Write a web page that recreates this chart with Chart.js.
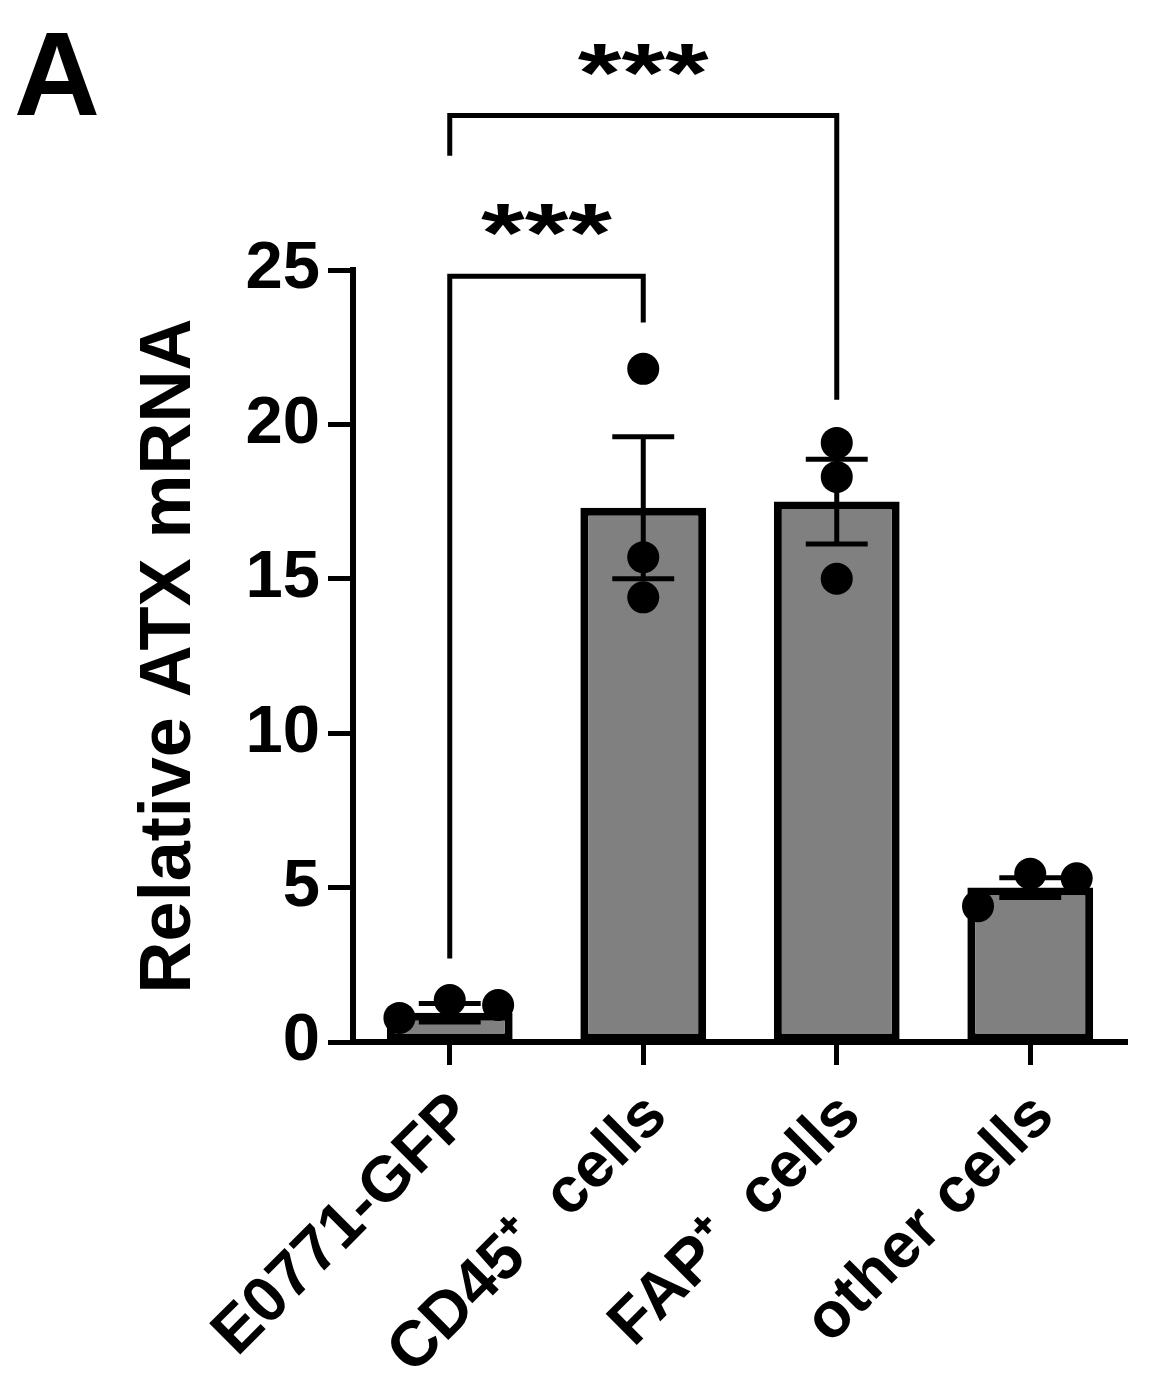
<!DOCTYPE html>
<html>
<head>
<meta charset="utf-8">
<script src="https://cdn.jsdelivr.net/npm/chart.js@4.4.0/dist/chart.umd.min.js"></script>
<style>
  html, body { margin: 0; padding: 0; background: #fff; }
  #wrap { width: 1149px; height: 1395px; }
</style>
</head>
<body>
<div id="wrap"><canvas id="atxChart" width="1149" height="1395"></canvas></div>
<script>
// values
const categories = ['E0771-GFP', 'CD45\u207A  cells', 'FAP\u207A  cells', 'other cells'];
const barMeans = [0.95, 17.3, 17.5, 5.0];
const barSem = [0.3, 2.3, 1.37, 0.32];
const replicates = [
  [0.78, 1.36, 1.2],
  [21.8, 15.7, 14.4],
  [19.4, 18.3, 15.0],
  [4.4, 5.45, 5.3],
];
// horizontal spread of the dots, in category units
const jitter = [
  [-0.26, 0, 0.25],
  [0, 0, 0],
  [0, 0, 0],
  [-0.27, 0, 0.24],
];
const yTicks = [0, 5, 10, 15, 20, 25];

// significance brackets (y in data units)
const bracketFrom = [0, 0];
const bracketTo = [1, 2];
const bracketTop = [24.8, 30.0];
const bracketLeftEnd = [2.7, 28.7];
const bracketRightEnd = [23.3, 20.8];
const bracketLabels = ['***', '***'];

const panelLabel = 'A';
const FONT = "'Liberation Sans', Arial, Helvetica, sans-serif";

const points = [];
replicates.forEach((vals, i) => {
  vals.forEach((v, j) => points.push({ x: i + jitter[i][j], y: v }));
});

const annotations = {
  id: 'annotations',
  afterDatasetDraw(chart, args) {
    if (args.index !== 0) return;
    const ctx = chart.ctx;
    const xp = chart.scales.xp;
    const y = chart.scales.y;
    ctx.save();
    ctx.strokeStyle = '#000';
    ctx.lineWidth = 5;
    barMeans.forEach((m, i) => {
      const cx = xp.getPixelForValue(i);
      const half = xp.getPixelForValue(i + 0.16) - cx;
      const yt = y.getPixelForValue(m + barSem[i]);
      const yb = y.getPixelForValue(m - barSem[i]);
      ctx.beginPath();
      ctx.moveTo(cx, yt);
      ctx.lineTo(cx, yb);
      ctx.moveTo(cx - half, yt);
      ctx.lineTo(cx + half, yt);
      ctx.moveTo(cx - half, yb);
      ctx.lineTo(cx + half, yb);
      ctx.stroke();
    });
    ctx.restore();
  },
  afterDraw(chart) {
    const ctx = chart.ctx;
    const xp = chart.scales.xp;
    const y = chart.scales.y;
    ctx.save();
    ctx.strokeStyle = '#000';
    ctx.fillStyle = '#000';
    ctx.lineWidth = 5;
    ctx.lineJoin = 'miter';
    bracketFrom.forEach((from, k) => {
      const x1 = xp.getPixelForValue(from);
      const x2 = xp.getPixelForValue(bracketTo[k]);
      const top = y.getPixelForValue(bracketTop[k]);
      ctx.beginPath();
      ctx.moveTo(x1, y.getPixelForValue(bracketLeftEnd[k]));
      ctx.lineTo(x1, top);
      ctx.lineTo(x2, top);
      ctx.lineTo(x2, y.getPixelForValue(bracketRightEnd[k]));
      ctx.stroke();
      // squat asterisks like the original figure
      ctx.save();
      ctx.translate((x1 + x2) / 2, top - 14);
      ctx.scale(1, 0.75);
      ctx.font = 'bold 112px ' + FONT;
      ctx.textAlign = 'center';
      ctx.textBaseline = 'alphabetic';
      ctx.fillText(bracketLabels[k], 0, 0);
      ctx.restore();
    });
    ctx.font = 'bold 119px ' + FONT;
    ctx.textAlign = 'left';
    ctx.textBaseline = 'alphabetic';
    ctx.fillText(panelLabel, 14, 115);
    ctx.restore();
  }
};

const ctx = document.getElementById('atxChart').getContext('2d');
new Chart(ctx, {
  type: 'bar',
  data: {
    labels: categories,
    datasets: [
      {
        type: 'bar',
        data: barMeans,
        backgroundColor: '#808080',
        borderColor: '#000',
        borderWidth: 8,
        borderSkipped: false,
        grouped: false,
        barPercentage: 0.65,
        categoryPercentage: 1,
        xAxisID: 'x',
        yAxisID: 'y',
        order: 2,
      },
      {
        type: 'scatter',
        data: points,
        xAxisID: 'xp',
        yAxisID: 'y',
        backgroundColor: '#000',
        borderColor: '#000',
        borderWidth: 0,
        pointRadius: 16,
        order: 1,
      },
    ],
  },
  options: {
    responsive: false,
    animation: false,
    devicePixelRatio: 1,
    layout: { padding: { top: 270, right: 22, bottom: 0, left: 0 } },
    plugins: { legend: { display: false }, tooltip: { enabled: false } },
    scales: {
      x: {
        type: 'category',
        offset: true,
        grid: { drawOnChartArea: false, offset: false, tickLength: 23, tickWidth: 5, tickColor: '#000' },
        border: { color: '#000', width: 6 },
        ticks: {
          color: '#000',
          font: { family: FONT, size: 64, weight: 'bold' },
          minRotation: 45,
          maxRotation: 45,
          autoSkip: false,
          padding: 14,
          labelOffset: 14,
        },
        afterFit: (s) => { s.height = 1395 - 1042; },
      },
      xp: {
        type: 'linear',
        min: -0.5,
        max: 3.5,
        offset: false,
        grid: { offset: false },
        display: false,
      },
      y: {
        min: 0,
        max: 25,
        afterBuildTicks: (s) => { s.ticks = yTicks.map((v) => ({ value: v })); },
        ticks: { color: '#000', font: { family: FONT, size: 67, weight: 'bold' }, padding: 8 },
        grid: { drawOnChartArea: false, tickLength: 25, tickWidth: 5, tickColor: '#000' },
        border: { color: '#000', width: 6 },
        title: {
          display: true,
          text: 'Relative ATX mRNA',
          color: '#000',
          font: { family: FONT, size: 72, weight: 'bold' },
          padding: { top: 127, bottom: 0 },
        },
        afterFit: (s) => { s.width = 353; },
      },
    },
  },
  plugins: [annotations],
});
</script>
</body>
</html>
